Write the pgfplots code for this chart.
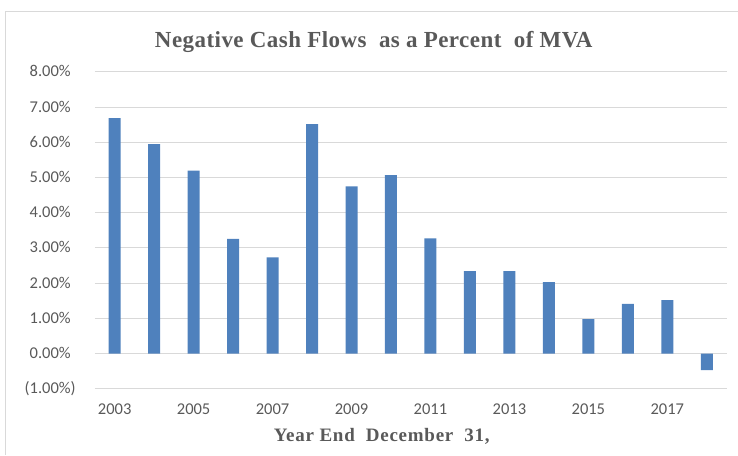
\documentclass[border=0pt]{standalone}
\usepackage{pgfplots}
\pgfplotsset{compat=1.18}
\usepackage{fontspec}
\setmainfont{Liberation Serif}
\newfontfamily\carlito{Carlito}
\definecolor{barblue}{HTML}{4F81BD}
\definecolor{txtgray}{HTML}{595959}
\definecolor{gridgray}{HTML}{D9D9D9}
\begin{document}
\begin{tikzpicture}[x=1pt,y=1pt]
\path (0,0) rectangle (738,455);
\draw[gridgray, line width=1pt] (6,0) -- (6,443) -- (738,443);
\begin{axis}[
  at={(95pt,66pt)}, anchor=south west,
  scale only axis, width=632pt, height=317pt,
  xmin=-0.5, xmax=15.5, ymin=-1, ymax=8,
  axis line style={draw=none},
  major tick length=0pt,
  ymajorgrids, grid style={gridgray, line width=1pt},
  ytick={-1,0,1,2,3,4,5,6,7,8},
  yticklabels={(1.00\%),0.00\%\phantom{)},1.00\%\phantom{)},2.00\%\phantom{)},3.00\%\phantom{)},4.00\%\phantom{)},5.00\%\phantom{)},6.00\%\phantom{)},7.00\%\phantom{)},8.00\%\phantom{)}},
  xtick={0,2,4,6,8,10,12,14},
  xticklabels={2003,2005,2007,2009,2011,2013,2015,2017},
  yticklabel style={anchor=east, inner sep=0pt, xshift=-19pt, font=\carlito\fontsize{16.5}{16.5}\selectfont, text=txtgray},
  xticklabel style={anchor=north, inner sep=0pt, yshift=-15pt, font=\carlito\fontsize{16.5}{16.5}\selectfont, text=txtgray},
  clip=false,
]
\addplot[ybar, bar width=12pt, bar shift=0pt, fill=barblue, draw=none] coordinates {
(0,6.69) (1,5.95) (2,5.20) (3,3.26) (4,2.73) (5,6.52) (6,4.75) (7,5.07)
(8,3.27) (9,2.34) (10,2.34) (11,2.03) (12,0.98) (13,1.41) (14,1.52) (15,-0.47)
};
\end{axis}
\node[text=txtgray, font=\bfseries\fontsize{23}{23}\selectfont\addfontfeature{LetterSpace=2}] at (374,413) {Negative Cash Flows\ \ as a Percent\ \ of MVA};
\node[text=txtgray, font=\bfseries\fontsize{19}{19}\selectfont\addfontfeature{LetterSpace=4}] at (382,18) {Year End\ \ December\ \ 31,};
\end{tikzpicture}
\end{document}
